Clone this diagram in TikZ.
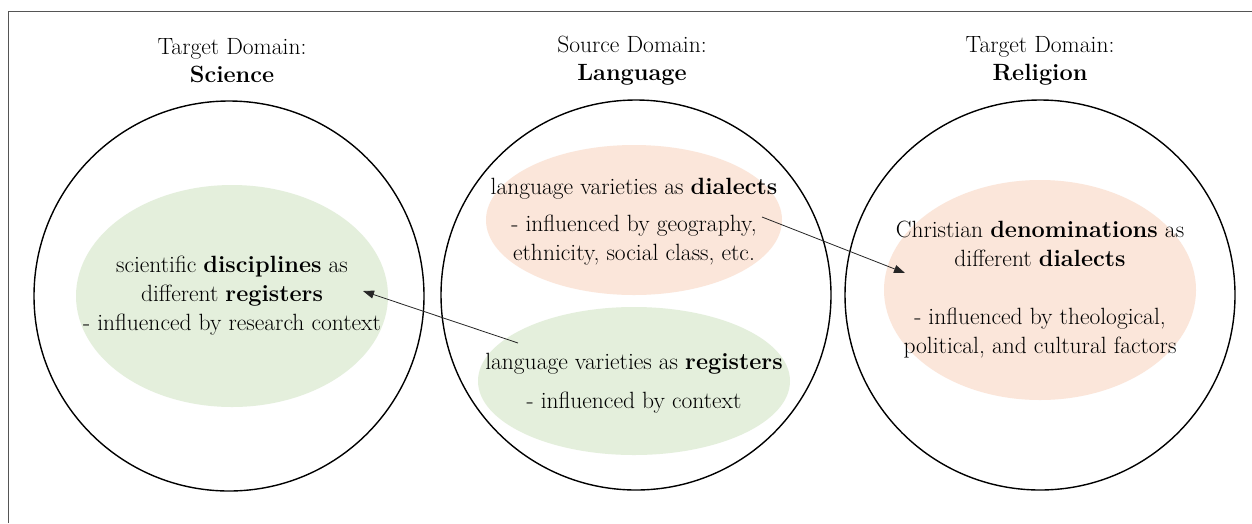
\documentclass[tikz,border=0pt]{standalone}
\usepackage{fontspec}
\usetikzlibrary{arrows.meta,shapes.geometric}
\definecolor{regfill}{HTML}{E4EFDC}
\definecolor{dialfill}{HTML}{FBE6DA}
\definecolor{framegray}{HTML}{555555}
\tikzset{
  domcircle/.style={circle,draw=black,line width=1.4pt,minimum size=390pt,inner sep=0pt},
  blob/.style={ellipse,draw=none,inner sep=0pt},
  regblob/.style={blob,fill=regfill},
  dialblob/.style={blob,fill=dialfill},
  blobtext/.style={align=center,inner sep=0pt,font=\fontsize{23.5}{29}\selectfont},
  domtitle/.style={align=center,inner sep=0pt,font=\fontsize{23.5}{28}\selectfont},
  mapping/.style={draw=black!85,line width=0.8pt,-{Triangle[length=11pt,width=8pt]}}
}
\begin{document}
\begin{tikzpicture}[x=1pt,y=-1pt]
\useasboundingbox (0,0) rectangle (1252,523);
\fill[white] (0,0) rectangle (1252,523);
% outer frame (only top and left edges fall inside the page)
\draw[framegray,line width=1.2pt] (8.5,523) -- (8.5,11.5) -- (1252,11.5);

% domain circles
\node[domcircle] (sci) at (229,296) {};
\node[domcircle] (lang) at (636,295) {};
\node[domcircle] (rel) at (1040,295) {};

% titles
\node[domtitle] (scit) at (232,61) {Target Domain:\\\textbf{Science}};
\node[domtitle] (langt) at (632,61) {Source Domain:\\\textbf{Language}};
\node[domtitle] (relt) at (1040,61) {Target Domain:\\\textbf{Religion}};

% coloured areas
\node[regblob,minimum width=312pt,minimum height=222pt] (scib) at (232,296) {};
\node[dialblob,minimum width=296pt,minimum height=150pt] (dialb) at (634,220) {};
\node[regblob,minimum width=312pt,minimum height=148pt] (regb) at (634,381) {};
\node[dialblob,minimum width=312pt,minimum height=220pt] (relb) at (1040,290) {};

% texts
\node[blobtext] (scix) at (scib.center) {scientific \textbf{disciplines} as\\different \textbf{registers}\\- influenced by research context};
\node[blobtext] (dialx) at (634,222) {language varieties as \textbf{dialects}\\[8pt]- influenced by geography,\\ethnicity, social class, etc.};
\node[blobtext] (regx) at (634,383) {language varieties as \textbf{registers}\\[10pt]- influenced by context};
\node[blobtext] (relx) at (1040,290) {Christian \textbf{denominations} as\\different \textbf{dialects}\\[29pt]- influenced by theological,\\political, and cultural factors};

% mappings
\coordinate (m1s) at (518,343);
\coordinate (m1e) at (363,291);
\coordinate (m2s) at (762,217);
\coordinate (m2e) at (905,273);
\draw[mapping] (m1s) -- (m1e);
\draw[mapping] (m2s) -- (m2e);
\end{tikzpicture}
\end{document}
